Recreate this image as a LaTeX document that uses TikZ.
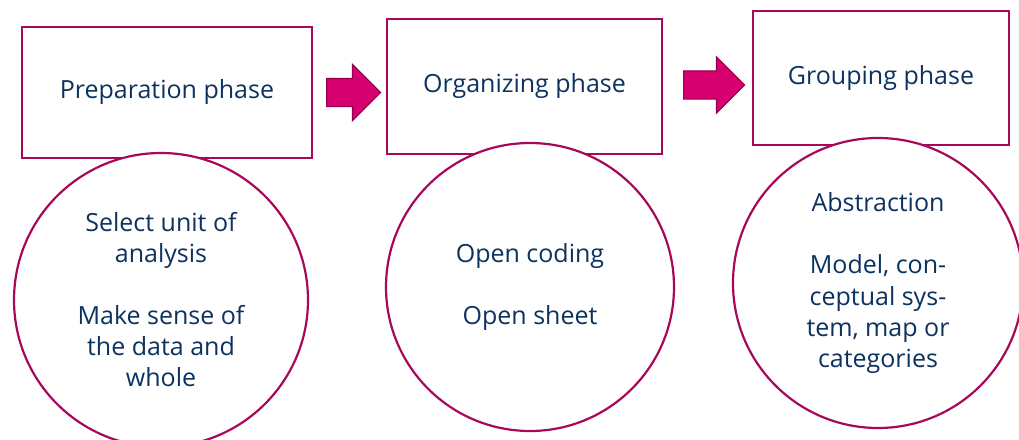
\documentclass[tikz,border=0pt]{standalone}
\usepackage{fontspec}
\setmainfont{Open Sans}
\usetikzlibrary{shapes.arrows}

\definecolor{phaseline}{RGB}{168,8,90}
\definecolor{phasetext}{RGB}{12,50,96}
\definecolor{arrowfill}{RGB}{214,0,112}
\definecolor{arrowline}{RGB}{150,0,74}

\tikzset{
	phase/.style={draw=phaseline, line width=2.2pt, rectangle, text=phasetext, inner sep=0pt,
		font=\fontsize{25}{31}\selectfont},
	bubble/.style={draw=phaseline, line width=2.2pt, circle, fill=white, text=phasetext, inner sep=0pt,
		align=center, font=\fontsize{25}{31}\selectfont},
	flow/.style={single arrow, fill=arrowfill, draw=arrowline, line width=1.2pt, inner xsep=0pt,
		inner ysep=13.5pt, single arrow head extend=14pt, single arrow tip angle=90, anchor=tail}
}

\begin{document}
\begin{tikzpicture}[x=1pt, y=-1pt]
	\useasboundingbox (0,0) rectangle (1019,439);
	\node [phase, minimum width=290, minimum height=131] (prep) at (167,92.5) {Preparation phase};
	\node [phase, minimum width=275, minimum height=135] (org) at (524.5,86.5) {Organizing phase};
	\node [phase, minimum width=256, minimum height=134] (group) at (881,78) {Grouping phase};
	\node [bubble, minimum size=294] (prepc) at (161,300) {Select unit of\\analysis\\[31pt]Make sense of\\the data and\\whole};
	\node [bubble, minimum size=288] (orgc) at (530,287) {Open coding\\[31pt]Open sheet};
	\node [bubble, minimum size=290] (groupc) at (878,283) {Abstraction\\[31pt]Model, con-\\ceptual sys-\\tem, map or\\categories};
	\node [flow, minimum height=54, minimum width=55] (arr1) at (326,92.5) {};
	\node [flow, minimum height=61, minimum width=54] (arr2) at (683,85) {};
\end{tikzpicture}
\end{document}
